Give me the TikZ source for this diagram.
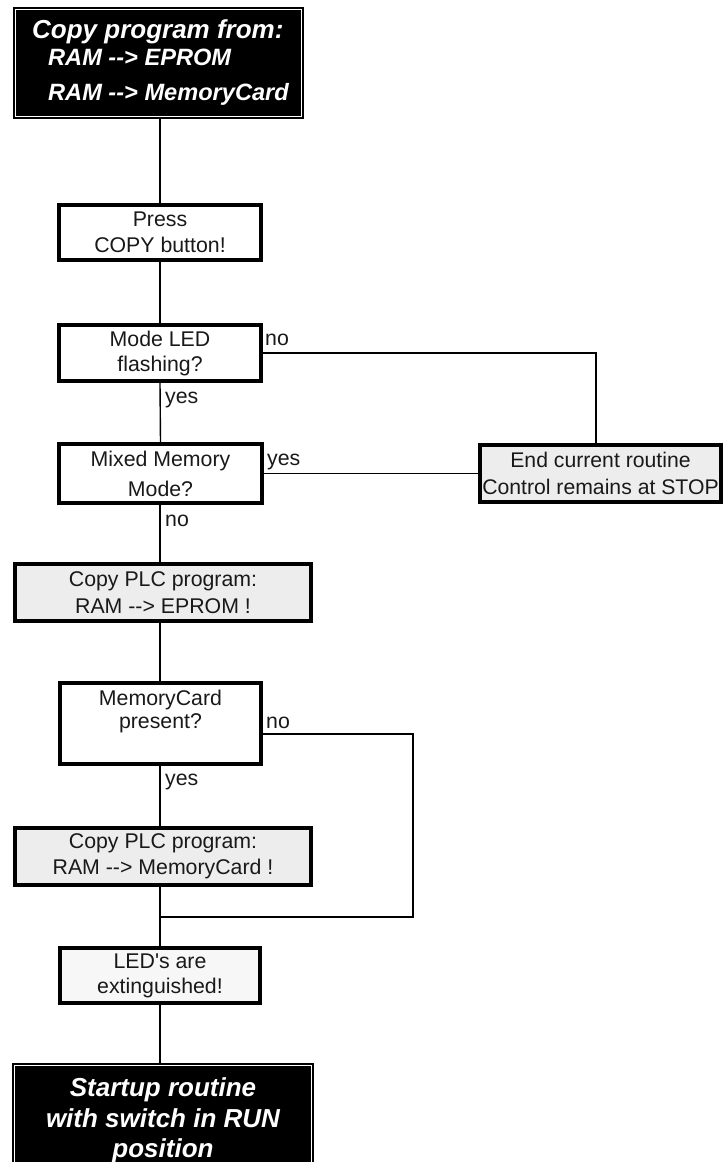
\documentclass[tikz,border=0pt]{standalone}
\usepackage{fontspec}
\newfontfamily\lsans{Liberation Sans}
\usetikzlibrary{calc}
\begin{document}
\begin{tikzpicture}[x=1pt,y=-1pt,
  box/.style={draw=black, line width=4pt, rectangle, align=center, inner sep=0pt,
    fill=white, text=black!90, font=\lsans\fontsize{21.3}{26}\selectfont},
  greybox/.style={box, fill=black!7},
  wire/.style={line width=1.4pt},
  lbl/.style={anchor=base west, inner sep=0pt, text=black!90, font=\lsans\fontsize{21.3}{26}\selectfont},
  term/.style={fill=black, draw=black, line width=1pt, rectangle, inner sep=0pt},
  termtext/.style={text=white, inner sep=0pt, font=\lsans\fontsize{26}{30}\selectfont\bfseries\itshape},
  termsmall/.style={termtext, font=\lsans\fontsize{23.6}{28}\selectfont\bfseries\itshape}
]
\clip (0,0) rectangle (725,1162);
\fill[white] (0,0) rectangle (725,1162);

% start terminal
\node[term, minimum width=290pt, minimum height=111pt] (start) at (158,62.5) {};
\draw[white, line width=0.8pt] ($(start.south west)+(2.5,-2.5)$) rectangle ($(start.north east)+(-2.5,2.5)$);
\node[termtext, anchor=base west] (s1) at (32,38) {Copy program from:};
\node[termsmall, anchor=base west] (s2) at (48,65) {RAM --> EPROM};
\node[termsmall, anchor=base west] (s3) at (48,100) {RAM --> MemoryCard};

% process steps and decisions
\node[box, minimum width=202pt, minimum height=55pt] (press) at (160,232.5) {Press\\COPY button!};
\node[box, minimum width=202pt, minimum height=56pt, font=\lsans\fontsize{21.3}{25}\selectfont] (mode) at (160,353) {Mode LED\\flashing?};
\node[box, minimum width=203pt, minimum height=59pt, font=\lsans\fontsize{21.3}{30}\selectfont] (mixed) at (160.5,473.5) {Mixed Memory\\Mode?};
\node[greybox, minimum width=241pt, minimum height=57pt, font=\lsans\fontsize{21.2}{27}\selectfont] (endr) at (600.5,473.5) {End current routine\\Control remains at STOP};
\node[greybox, minimum width=296pt, minimum height=57pt, font=\lsans\fontsize{21.3}{27}\selectfont] (copye) at (163,592.5) {Copy PLC program:\\RAM --> EPROM !};
\node[box, minimum width=201pt, minimum height=81pt, font=\lsans\fontsize{21.3}{23}\selectfont] (mem) at (160.5,723.5) {MemoryCard\\present?\\[6pt]\mbox{}};
\node[greybox, minimum width=296pt, minimum height=57pt] (copym) at (163,856.5) {Copy PLC program:\\RAM --> MemoryCard !};
\node[box, fill=black!3, minimum width=200pt, minimum height=55pt, font=\lsans\fontsize{21.3}{25}\selectfont] (led) at (160,975.5) {LED's are\\extinguished!};

% end terminal
\node[term, minimum width=301pt, minimum height=112pt] (run) at (162.5,1119) {};
\draw[white, line width=0.8pt] ($(run.south west)+(2.5,-2.5)$) rectangle ($(run.north east)+(-2.5,2.5)$);
\node[termtext, anchor=base] (r1) at (163,1096) {Startup routine};
\node[termtext, anchor=base] (r2) at (163,1127) {with switch in RUN};
\node[termtext, anchor=base] (r3) at (163,1157) {position};

% connectors
\coordinate (k1) at (596,353);
\coordinate (k2) at (413,734);
\coordinate (k3) at (413,917);
\coordinate (k4) at (160,917);
\draw[wire] (start.south -| press.north) -- (press.north);
\draw[wire] (press.south) -- (mode.north);
\draw[wire] (mode.south) -- (mixed.south |- mixed.north);
\draw[wire] (mode.east |- k1) -- (k1) -- (k1 |- endr.north);
\draw[wire] (mixed.east |- endr.west) -- (endr.west);
\draw[wire] (mixed.south -| k4) -- (copye.north -| k4);
\draw[wire] (copye.south -| k4) -- (mem.north -| k4);
\draw[wire] (mem.south -| k4) -- (copym.north -| k4);
\draw[wire] (mem.east |- k2) -- (k2) -- (k3) -- (k4);
\draw[wire] (copym.south -| k4) -- (led.north -| k4);
\draw[wire] (led.south -| k4) -- (run.north -| k4);

% branch labels
\node[lbl] (n1) at (265,345) {no};
\node[lbl] (y1) at (165,403) {yes};
\node[lbl] (y2) at (267,465) {yes};
\node[lbl] (n2) at (165,526) {no};
\node[lbl] (n3) at (266,728) {no};
\node[lbl] (y3) at (165,785) {yes};
\end{tikzpicture}
\end{document}
